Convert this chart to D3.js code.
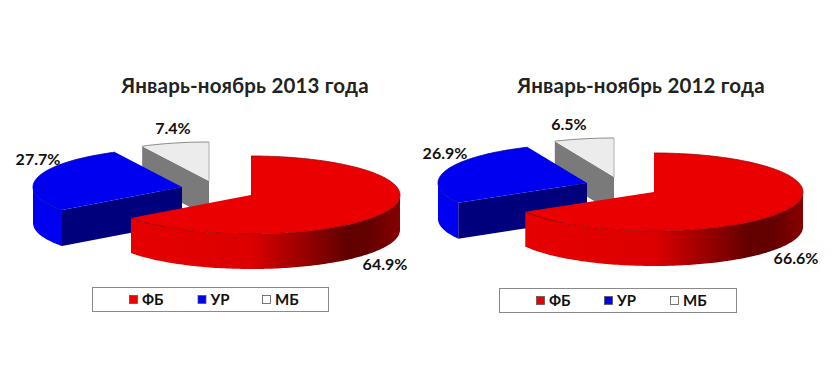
<!DOCTYPE html>
<html><head><meta charset="utf-8">
<script src="https://cdn.jsdelivr.net/npm/d3@7"></script>
<style>html,body{margin:0;padding:0;background:#fff}svg{display:block}</style>
</head><body><svg id="c" width="835" height="379"></svg>
<script>
const categories = ["ФБ","УР","МБ"];
const titles = ["Январь-ноябрь 2013 года","Январь-ноябрь 2012 года"];
const values2013 = [64.9,27.7,7.4];
const values2012 = [66.6,26.9,6.5];
const labels2013 = ["64.9%","27.7%","7.4%"];
const labels2012 = ["66.6%","26.9%","6.5%"];
const topColors = ["#ea0000","#0000f0","#ececec"];
const strokeColors = ["#a00000","#00009a","#8a8a8a"];
const cutColors = ["#800000","#00007c","#7a7a7a"];

const svg = d3.select("#c");
const defs = svg.append("defs");
const font = "Lato, 'Open Sans', sans-serif";
const RX = 149, RY = 39, DEPTHS = [35,36,36];

const panels = [
 {id:"a", title:titles[0], values:values2013, labels:labels2013, titleX:245, titleY:93,
  centers:[[251,195],[182,187],[209,181]],
  labelPos:[[385,270],[38,165],[173,134]],
  legend:{x:92.5,y:287.5,w:236,h:24,items:[129,197.5,262]}},
 {id:"b", title:titles[1], values:values2012, labels:labels2012, titleX:641, titleY:93,
  centers:[[654,192],[587,183],[614,177]],
  labelPos:[[796,264],[445,159],[569,130]],
  legend:{x:499.5,y:288.5,w:237,h:24,items:[536,604,670]}}
];

function pt(c,a,dy){return [c[0]+RX*Math.sin(a), c[1]-RY*Math.cos(a)+(dy||0)];}
function arcPts(c,a0,a1,dy){
  const n=Math.max(2,Math.ceil(Math.abs(a1-a0)/0.02));
  return d3.range(n+1).map(i=>pt(c,a0+(a1-a0)*i/n,dy));
}
const line=d3.line();

panels.forEach(p=>{
  const arcs=d3.pie().sort(null).value(d=>d)(p.values);
  const g=svg.append("g");
  const grad=defs.append("linearGradient").attr("id","side"+p.id).attr("gradientUnits","userSpaceOnUse")
    .attr("x1",p.centers[0][0]-RX).attr("x2",p.centers[0][0]+RX).attr("y1",0).attr("y2",0);
  [[0,"#e80000"],[0.5,"#dc0000"],[0.82,"#620000"],[0.9,"#640000"],[1,"#880000"]]
    .forEach(s=>grad.append("stop").attr("offset",s[0]).attr("stop-color",s[1]));

  [2,1,0].forEach(i=>{
    const a=arcs[i], c=p.centers[i], s=g.append("g"), D=DEPTHS[i];
    const a0=a.startAngle, a1=a.endAngle;
    if(i!==0){
      s.append("path").attr("d",line([c,pt(c,a0),pt(c,a0,D),[c[0],c[1]+D]])+"Z")
       .attr("fill",cutColors[i]);
    }
    const w0=Math.max(a0,Math.PI/2), w1=Math.min(a1,Math.PI*1.5);
    if(w1>w0){
      const wall=arcPts(c,w0,w1,0).concat(arcPts(c,w1,w0,D));
      s.append("path").attr("d",line(wall)+"Z")
       .attr("fill", i===0?`url(#side${p.id})`:topColors[i]);
    }
    s.append("path").attr("d",line([c].concat(arcPts(c,a0,a1,0)))+"Z").attr("fill",topColors[i]);
    s.append("path").attr("d",line(arcPts(c,a0,a1,0)))
      .attr("fill","none").attr("stroke",strokeColors[i]).attr("stroke-width",i===2?1:0.8);
    if(i===2){
      s.append("path").attr("d",line([pt(c,a1),c])).attr("stroke","#b0b0b0").attr("fill","none");
    }
    s.append("text").attr("x",p.labelPos[i][0]).attr("y",p.labelPos[i][1])
      .attr("text-anchor","middle").attr("font-family",font).attr("font-weight",700)
      .attr("font-size",16).attr("fill","#111").text(p.labels[i]);
  });

  g.append("text").attr("x",p.titleX).attr("y",p.titleY).attr("text-anchor","middle")
   .attr("font-family",font).attr("font-weight",700).attr("font-size",20.5)
   .attr("letter-spacing",0.18).attr("fill","#222").text(p.title);

  const L=p.legend, lg=g.append("g");
  lg.append("rect").attr("x",L.x).attr("y",L.y).attr("width",L.w).attr("height",L.h)
    .attr("fill","#fff").attr("stroke","#8a8a8a").attr("stroke-width",1);
  categories.forEach((n,i)=>{
    lg.append("rect").attr("x",L.items[i]+0.5).attr("y",L.y+8).attr("width",8).attr("height",8)
      .attr("fill",i===2?"#fff":topColors[i]).attr("stroke","#555").attr("stroke-width",0.8);
    lg.append("text").attr("x",L.items[i]+13).attr("y",L.y+17).attr("font-family",font)
      .attr("font-weight",700).attr("font-size",15).attr("fill","#111").text(n);
  });
});
</script></body></html>
